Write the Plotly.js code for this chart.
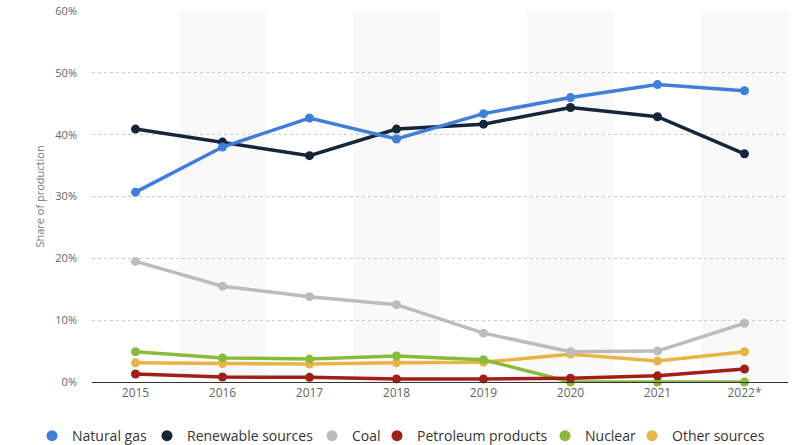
<!DOCTYPE html>
<html>
<head>
<meta charset="utf-8">
<script src="https://cdn.plot.ly/plotly-3.0.1.min.js"></script>
<style>
html,body{margin:0;padding:0;background:#fff;}
#chart{width:800px;height:445px;}
</style>
</head>
<body>
<div id="chart"></div>
<script>
var years = ["2015","2016","2017","2018","2019","2020","2021","2022*"];
var naturalGas = [30.7, 38.0, 42.7, 39.3, 43.4, 46.0, 48.1, 47.1];
var renewable = [40.9, 38.8, 36.6, 40.9, 41.7, 44.4, 42.9, 36.9];
var coal = [19.5, 15.5, 13.8, 12.5, 7.9, 4.9, 5.0, 9.5];
var petroleum = [1.3, 0.8, 0.75, 0.5, 0.5, 0.6, 1.0, 2.1];
var nuclear = [4.9, 3.9, 3.7, 4.2, 3.6, 0, 0, 0];
var other = [3.1, 3.0, 2.9, 3.1, 3.2, 4.5, 3.4, 4.9];
var yTicks = [0, 10, 20, 30, 40, 50, 60];
var yTickLabels = ["0%", "10%", "20%", "30%", "40%", "50%", "60%"];
var seriesNames = ["Natural gas", "Renewable sources", "Coal", "Petroleum products", "Nuclear", "Other sources"];

var seriesValues = [naturalGas, renewable, coal, petroleum, nuclear, other];
var seriesColors = ["#3f7edb", "#15263a", "#bcbcbc", "#a11f18", "#89bb3b", "#e8b445"];
// pixel x of each legend entry text start (layout)
var legendTextX = [72, 187, 352, 417, 585, 672];

var traces = [];
for (var k = seriesNames.length - 1; k >= 0; k--) {
  traces.push({
    type: "scatter", mode: "lines+markers", name: seriesNames[k],
    x: years, y: seriesValues[k], cliponaxis: false, showlegend: false,
    line: {color: seriesColors[k], width: 3.5},
    marker: {color: seriesColors[k], size: 9}
  });
}
// legend entries (no data drawn)
for (var m = 0; m < seriesNames.length; m++) {
  traces.push({
    type: "scatter", mode: "markers", name: seriesNames[m],
    x: [null], y: [null], showlegend: true,
    legend: m === 0 ? "legend" : "legend" + (m + 1),
    marker: {color: seriesColors[m], size: 11, symbol: "circle"}
  });
}

var shapes = [];
for (var i = 1; i < years.length; i += 2) {
  shapes.push({type: "rect", xref: "x", yref: "paper", x0: i - 0.5, x1: i + 0.5, y0: 0, y1: 1,
    fillcolor: "#f9f9f9", line: {width: 0}, layer: "below"});
}

var layout = {
  width: 800, height: 445,
  margin: {l: 92, r: 12, t: 11, b: 63, autoexpand: false},
  paper_bgcolor: "#fff", plot_bgcolor: "#fff",
  font: {family: "Open Sans, sans-serif", color: "#666", size: 11},
  showlegend: true,
  xaxis: {type: "category", range: [-0.5, 7.5], showgrid: false, zeroline: false,
    showline: true, linecolor: "#333", linewidth: 1, ticks: "", ticklen: 0,
    tickfont: {size: 12, color: "#666"}},
  yaxis: {range: [0, 60], tickvals: yTicks, ticktext: yTickLabels, showgrid: true,
    gridcolor: "#ccc", griddash: "dot", gridwidth: 1, zeroline: false, showline: false,
    ticks: "", tickfont: {size: 11, color: "#666"}, ticklabelstandoff: 14,
    title: {text: "Share of production", font: {size: 11, color: "#777"}, standoff: 8}},
  shapes: shapes
};
for (var j = 0; j < seriesNames.length; j++) {
  var key = j === 0 ? "legend" : "legend" + (j + 1);
  layout[key] = {xref: "container", yref: "container", x: (legendTextX[j] - 40) / 800,
    xanchor: "left", y: 0.02, yanchor: "middle", orientation: "h",
    font: {size: 14, color: "#333"}, bgcolor: "rgba(0,0,0,0)"};
}

Plotly.newPlot("chart", traces, layout, {displayModeBar: false, staticPlot: true});
</script>
</body>
</html>
